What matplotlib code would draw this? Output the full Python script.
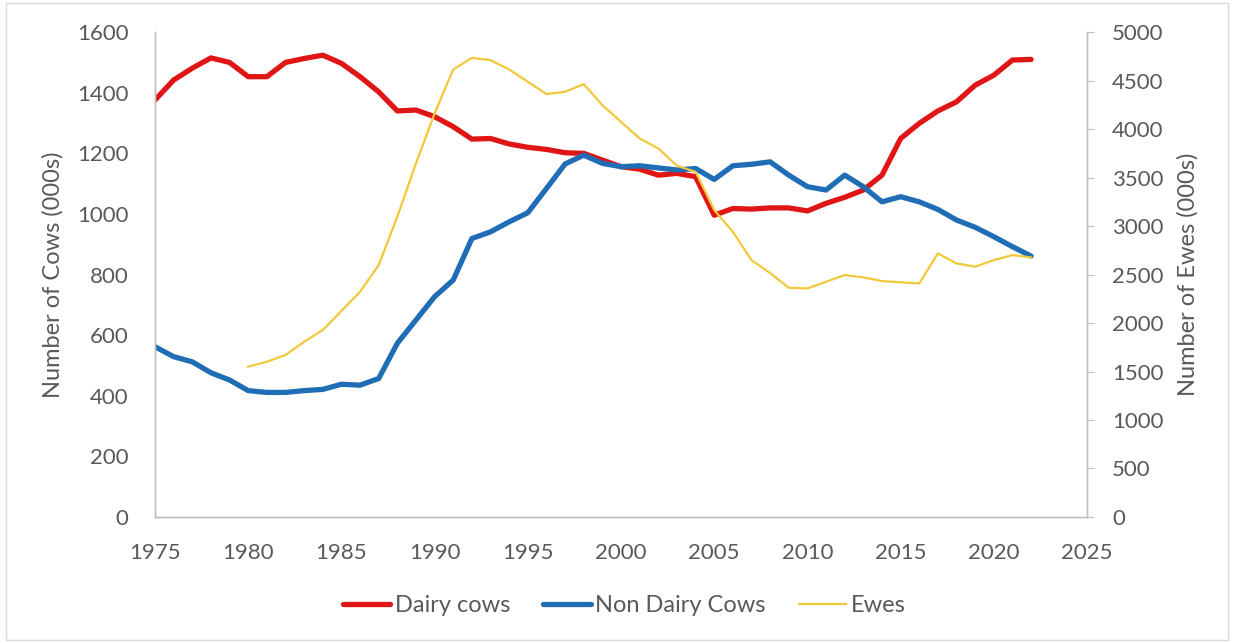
import matplotlib
matplotlib.use("Agg")
import matplotlib.pyplot as plt
from matplotlib.patches import Rectangle

plt.rcParams['font.family'] = ['Lato', 'DejaVu Sans']

# data (thousands)
years = list(range(1975, 2023))
dairy = [1376, 1442, 1481, 1515, 1500, 1453, 1453, 1500, 1513, 1524,
         1497, 1453, 1403, 1340, 1343, 1321, 1288, 1247, 1249, 1231,
         1220, 1213, 1202, 1200, 1178, 1156, 1148, 1128, 1134, 1123,
         996, 1018, 1016, 1020, 1020, 1010, 1035, 1055, 1079, 1128,
         1249, 1299, 1340, 1370, 1425, 1458, 1508, 1510]
non_dairy = [562, 529, 512, 476, 452, 417, 411, 411, 417, 421,
             438, 435, 457, 573, 650, 727, 782, 919, 941, 974,
             1004, 1084, 1165, 1194, 1167, 1156, 1159, 1152, 1145, 1150,
             1114, 1159, 1164, 1172, 1128, 1090, 1079, 1128, 1090, 1040,
             1057, 1040, 1015, 980, 956, 925, 892, 861]
ewe_years = list(range(1980, 2023))
ewes = [1550, 1601, 1670, 1807, 1928, 2124, 2323, 2598, 3096, 3646,
        4162, 4615, 4735, 4711, 4615, 4488, 4361, 4385, 4464, 4247,
        4075, 3904, 3801, 3622, 3560, 3165, 2941, 2649, 2515, 2364,
        2357, 2426, 2495, 2471, 2433, 2420, 2409, 2718, 2615, 2581,
        2649, 2701, 2677]

red = '#E01515'
blue = '#1F6EB5'
yellow = '#F2C83A'
grey = '#595959'
spine_c = '#BFBFBF'

fig = plt.figure(figsize=(12.34, 6.43), dpi=100)
ax = fig.add_axes([0.1256, 0.196, 0.7553, 0.754])
ax2 = ax.twinx()

l1, = ax.plot(years, dairy, color=red, lw=3.8, solid_capstyle='round', label='Dairy cows')
l2, = ax.plot(years, non_dairy, color=blue, lw=3.8, solid_capstyle='round', label='Non Dairy Cows')
l3, = ax2.plot(ewe_years, ewes, color=yellow, lw=1.6, label='Ewes')

ax.set_xlim(1975, 2025)
ax.set_ylim(0, 1600)
ax2.set_ylim(0, 5000)
ax.set_xticks(range(1975, 2026, 5))
ax.set_yticks(range(0, 1601, 200))
ax2.set_yticks(range(0, 5001, 500))

for a in (ax, ax2):
    for s in a.spines.values():
        s.set_color(spine_c)
        s.set_linewidth(1)
    a.spines['top'].set_visible(False)
    a.tick_params(colors=grey, labelsize=16)

ax.tick_params(axis='y', length=0, pad=19)
ax.tick_params(axis='x', length=0, pad=19)
ax2.tick_params(axis='y', length=5, color=spine_c, pad=13)

ax.set_ylabel('Number of Cows (000s)', color=grey, fontsize=17, labelpad=10)
ax2.set_ylabel('Number of Ewes (000s)', color=grey, fontsize=17, labelpad=10)

fig.legend(handles=[l1, l2, l3], loc='center', bbox_to_anchor=(0.506, 0.058),
           ncol=3, frameon=False, fontsize=17, labelcolor=grey,
           handlelength=2.0, handletextpad=0.2, columnspacing=1.4)

# light chart border
fig.patches.append(Rectangle((0.005, 0.004), 0.99, 0.991, transform=fig.transFigure,
                             fill=False, edgecolor='#D9D9D9', lw=1))

fig.savefig('out.png', dpi=100)
